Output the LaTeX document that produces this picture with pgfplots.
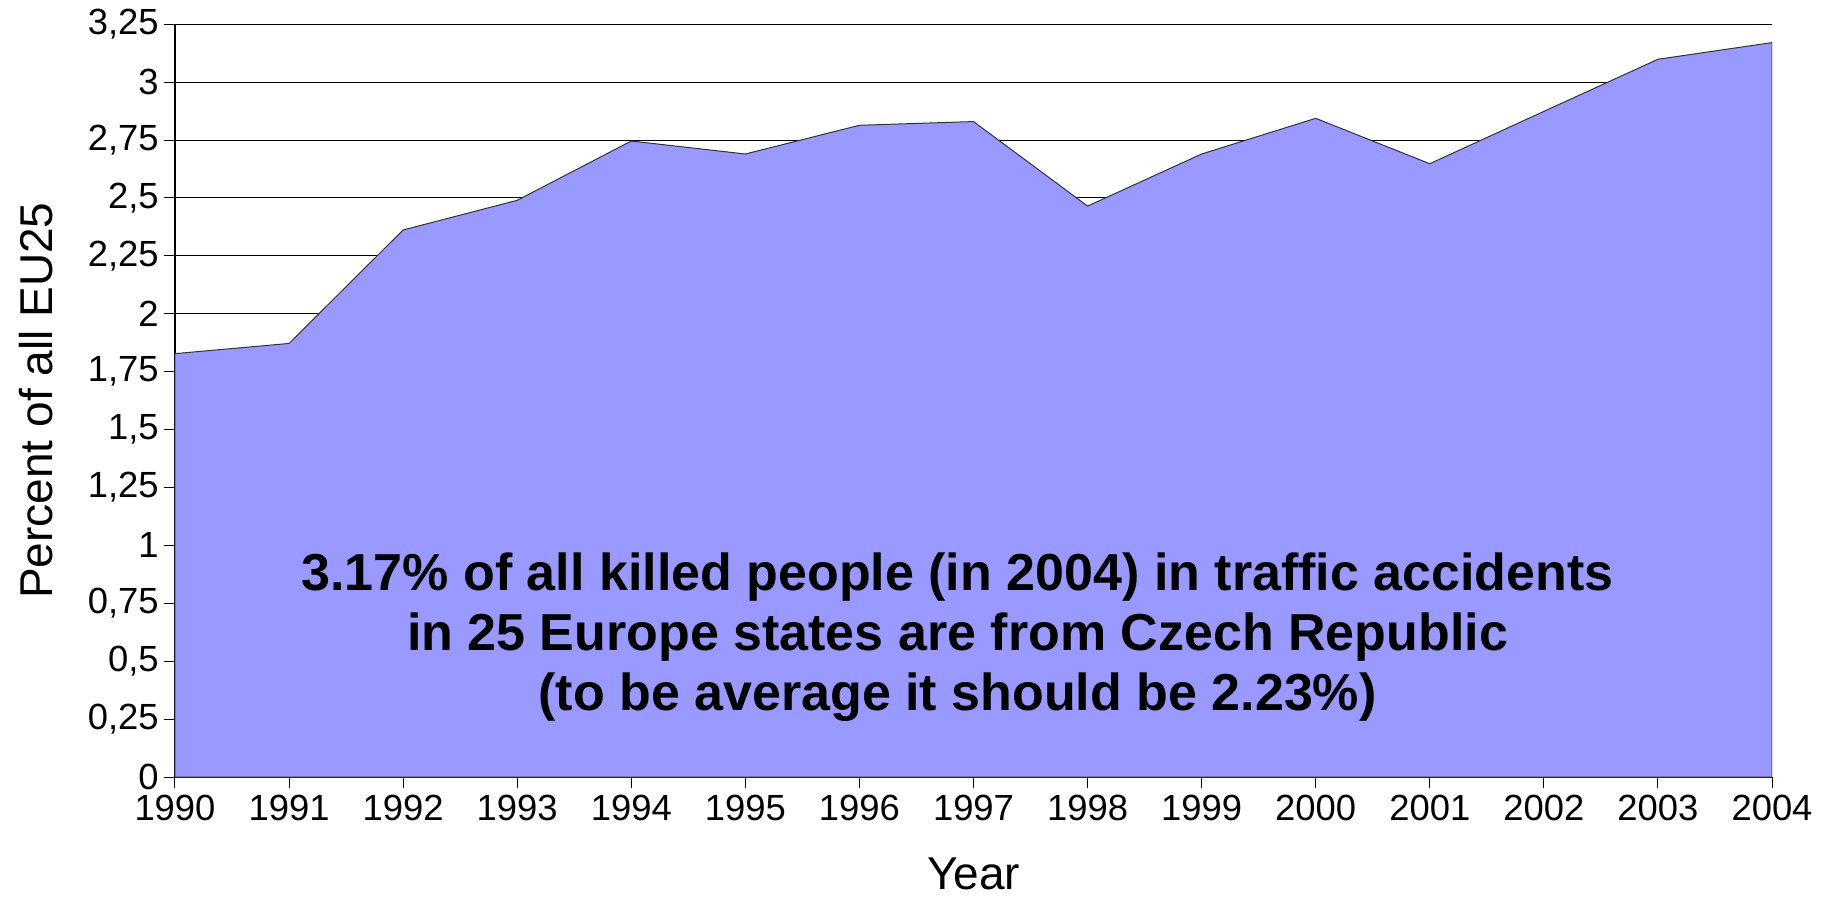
\documentclass[border=0pt]{standalone}
\usepackage{fontspec}
\setmainfont{Liberation Sans}
\usepackage{pgfplots}
\pgfplotsset{compat=1.18}
\definecolor{areafill}{RGB}{153,153,255}
\begin{document}
\begin{tikzpicture}
\begin{axis}[
  set layers,
  scale only axis,
  width=798.5pt, height=376.35pt,
  xmin=1990, xmax=2004, ymin=0, ymax=3.25,
  axis lines*=left,
  axis line style={black, line width=0.6pt},
  xtick={1990,1991,1992,1993,1994,1995,1996,1997,1998,1999,2000,2001,2002,2003,2004},
  xticklabels={1990,1991,1992,1993,1994,1995,1996,1997,1998,1999,2000,2001,2002,2003,2004},
  ytick={0,0.25,0.5,0.75,1,1.25,1.5,1.75,2,2.25,2.5,2.75,3,3.25},
  yticklabels={0,{0,25},{0,5},{0,75},1,{1,25},{1,5},{1,75},2,{2,25},{2,5},{2,75},3,{3,25}},
  tick align=outside,
  major tick length=5.5pt,
  tick style={black, line width=0.5pt},
  ymajorgrids,
  grid style={black, line width=0.5pt},
  ticklabel style={font=\fontsize{18.2}{21}\selectfont},
  yticklabel style={inner sep=2.5pt},
  label style={font=\fontsize{23}{26}\selectfont},
  xlabel={Year},
  ylabel={Percent of all EU25},
  xlabel style={at={(axis description cs:0.5,-0.150)}, anchor=base},
  ylabel style={at={(axis description cs:-0.0770,0.5)}, anchor=base, rotate=0},
]
\addplot[fill=areafill, draw=black!80, line width=0.5pt] coordinates {
  (1990,1.828) (1991,1.872) (1992,2.362) (1993,2.490) (1994,2.746)
  (1995,2.690) (1996,2.814) (1997,2.830) (1998,2.465) (1999,2.690)
  (2000,2.844) (2001,2.648) (2002,2.874) (2003,3.099) (2004,3.171)
} \closedcycle;
\node[anchor=base, align=center, font=\bfseries\fontsize{26}{30}\selectfont]
  at (axis cs:1996.86,0.286)
  {3.17\% of all killed people (in 2004) in traffic accidents\\
   in 25 Europe states are from Czech Republic\\
   (to be average it should be 2.23\%)};
\end{axis}
\pgfresetboundingbox
\path (current axis.south west) ++(-87.5pt,-59.5pt) rectangle ++(913.5pt,448pt);
\end{tikzpicture}
\end{document}
